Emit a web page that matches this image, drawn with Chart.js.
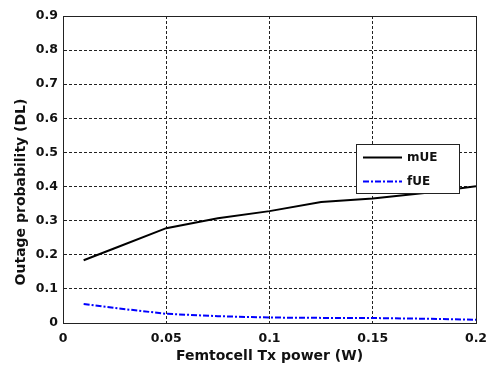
<!DOCTYPE html>
<html>
<head>
<meta charset="utf-8">
<script src="https://cdn.jsdelivr.net/npm/chart.js@4.4.1/dist/chart.umd.min.js"></script>
<style>
  html, body { margin: 0; padding: 0; background: #fff; }
  #wrap { width: 491px; height: 367px; }
</style>
</head>
<body>
<div id="wrap"><canvas id="c" width="491" height="367"></canvas></div>
<script>
// Femtocell transmit power (W)
const txPower = [0.01, 0.025, 0.05, 0.075, 0.1, 0.125, 0.15, 0.175, 0.2];
// Downlink outage probability per user type
const mUE = [0.184, 0.219, 0.278, 0.307, 0.328, 0.355, 0.365, 0.381, 0.401];
const fUE = [0.0555, 0.044, 0.027, 0.020, 0.016, 0.015, 0.0146, 0.0126, 0.0096];
const xTicks = [0, 0.05, 0.1, 0.15, 0.2];
const yTicks = [0, 0.1, 0.2, 0.3, 0.4, 0.5, 0.6, 0.7, 0.8, 0.9];
const xTitle = 'Femtocell Tx power (W)';
const yTitle = 'Outage probability (DL)';

const FONT = '"DejaVu Sans", sans-serif';
const INK = '#111';
const GRID_DASH = [3, 2];

const toPoints = ys => txPower.map((x, i) => ({ x, y: ys[i] }));
// snap a 1px line to the same pixel the grid uses
const snap = p => Math.round(p - 0.5) + 0.5;

// Frame around the plot, rotated y title and boxed legend in the upper right
const decorations = {
  id: 'decorations',
  afterDatasetsDraw(chart) {
    const { ctx, chartArea: a } = chart;
    ctx.save();
    ctx.setLineDash([]);
    ctx.strokeStyle = '#222';
    ctx.lineWidth = 1;
    const l = snap(a.left), r = snap(a.right), t = snap(a.top), b = snap(a.bottom);
    ctx.strokeRect(l, t, r - l, b - t);

    // legend box
    const bx = a.right - 120, by = a.top + 128, bw = 103, bh = 49;
    ctx.fillStyle = '#fff';
    ctx.fillRect(bx, by, bw, bh);
    ctx.strokeStyle = '#222';
    ctx.strokeRect(bx + 0.5, by + 0.5, bw, bh);
    const items = chart.data.datasets;
    const rows = [by + 13.5, by + 37.5];
    items.forEach((ds, i) => {
      ctx.beginPath();
      ctx.strokeStyle = ds.borderColor;
      ctx.lineWidth = 2;
      ctx.setLineDash(ds.borderDash || []);
      ctx.moveTo(bx + 7, rows[i]);
      ctx.lineTo(bx + 46, rows[i]);
      ctx.stroke();
      ctx.setLineDash([]);
      ctx.fillStyle = INK;
      ctx.font = 'bold 12px ' + FONT;
      ctx.textAlign = 'left';
      ctx.textBaseline = 'middle';
      ctx.fillText(ds.label, bx + 51, rows[i]);
    });

    // y axis title
    ctx.translate(21, 192);
    ctx.rotate(-Math.PI / 2);
    ctx.fillStyle = INK;
    ctx.font = 'bold 14px ' + FONT;
    ctx.textAlign = 'center';
    ctx.textBaseline = 'middle';
    ctx.fillText(yTitle, 0, 0);
    ctx.restore();
  }
};

const gridOpts = {
  color: '#222', lineWidth: 1, drawTicks: false,
  borderDash: GRID_DASH, borderDashOffset: 0
};
const borderOpts = { display: true, color: '#222', width: 1, dash: GRID_DASH, dashOffset: 0 };

new Chart(document.getElementById('c'), {
  type: 'line',
  data: {
    datasets: [
      {
        label: 'mUE',
        data: toPoints(mUE),
        borderColor: '#000',
        borderWidth: 2,
        pointRadius: 0,
        tension: 0,
        fill: false
      },
      {
        label: 'fUE',
        data: toPoints(fUE),
        borderColor: '#0000ff',
        borderWidth: 2,
        borderDash: [6, 2, 2, 2],
        pointRadius: 0,
        tension: 0,
        fill: false
      }
    ]
  },
  options: {
    responsive: false,
    animation: false,
    events: [],
    layout: { padding: { left: 0, right: 15, top: 16, bottom: 0 } },
    plugins: { legend: { display: false }, tooltip: { enabled: false } },
    scales: {
      x: {
        type: 'linear',
        min: 0,
        max: 0.2,
        afterBuildTicks: s => { s.ticks = xTicks.map(v => ({ value: v })); },
        afterFit: s => { s.height = 44; s.paddingLeft = 0; s.paddingRight = 0; },
        grid: gridOpts,
        border: borderOpts,
        ticks: {
          color: INK,
          font: { family: FONT, size: 12.5, weight: 'bold' },
          padding: 8,
          maxRotation: 0,
          callback: v => String(v)
        },
        title: {
          display: true,
          text: xTitle,
          color: INK,
          font: { family: FONT, size: 14, weight: 'bold' },
          padding: { top: 0, bottom: 2 }
        }
      },
      y: {
        min: 0,
        max: 0.9,
        afterBuildTicks: s => { s.ticks = yTicks.map(v => ({ value: v })); },
        afterFit: s => { s.width = 63; s.paddingTop = 0; s.paddingBottom = 0; },
        grid: gridOpts,
        border: borderOpts,
        ticks: {
          color: INK,
          font: { family: FONT, size: 12.5, weight: 'bold' },
          padding: 5,
          callback: v => String(Math.round(v * 10) / 10)
        }
      }
    }
  },
  plugins: [decorations]
});
</script>
</body>
</html>
